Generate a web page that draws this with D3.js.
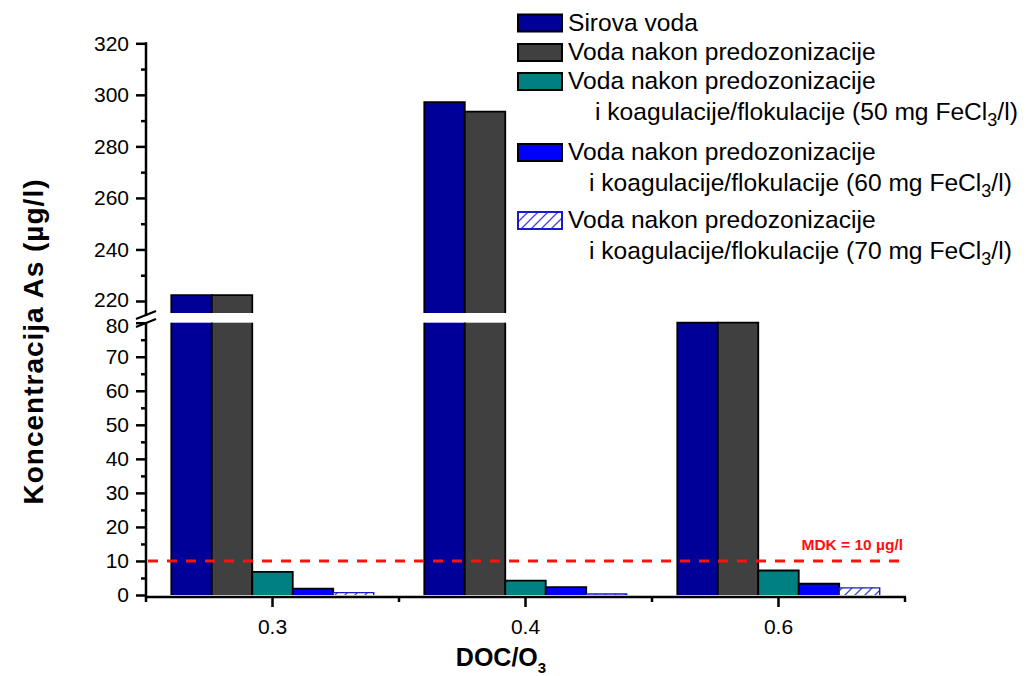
<!DOCTYPE html>
<html>
<head>
<meta charset="utf-8">
<script src="https://cdn.jsdelivr.net/npm/d3@7"></script>
<style>
  html, body { margin: 0; padding: 0; background: #fff; }
  svg { display: block; font-family: "Liberation Sans", Arial, sans-serif; }
</style>
</head>
<body>
<svg id="chart" width="1026" height="676"></svg>
<script>
// ---------------- data ----------------
const categories = ["0.3", "0.4", "0.6"];
const seriesKeys = ["sirova", "predoz", "fe50", "fe60", "fe70"];
const sirova = [222.3, 297.2, 80];
const predoz = [222.3, 293.5, 80];
const fe50 = [6.8, 4.25, 7.2];
const fe60 = [1.9, 2.3, 3.3];
const fe70 = [0.7, 0.3, 2.1];
const lowerTicks = [0, 10, 20, 30, 40, 50, 60, 70, 80];
const lowerMinorTicks = [5, 15, 25, 35, 45, 55, 65, 75];
const upperTicks = [220, 240, 260, 280, 300, 320];
const upperMinorTicks = [230, 250, 270, 290, 310];
const mdkValue = 10;
const legendLines = [
  ["Sirova voda"],
  ["Voda nakon predozonizacije"],
  ["Voda nakon predozonizacije", "i koagulacije/flokulacije (50 mg FeCl", "3", "/l)"],
  ["Voda nakon predozonizacije", "i koagulacije/flokulacije (60 mg FeCl", "3", "/l)"],
  ["Voda nakon predozonizacije", "i koagulacije/flokulacije (70 mg FeCl", "3", "/l)"]
];
const values = { sirova, predoz, fe50, fe60, fe70 };

// ---------------- layout ----------------
const svg = d3.select("#chart");
const axisX = 146;
const xLeft = 146, xRight = 905;
const zeroY = 595, lowerTopY = 322.7;
const upperBottomY = 313, upperLow = 220, upperHigh = 320;
const colors = {
  sirova: "#000099", predoz: "#404040", fe50: "#008080", fe60: "#0000ff", fe70: "url(#hatch)"
};
const strokes = { sirova: "#000", predoz: "#000", fe50: "#000", fe60: "#000", fe70: "#1a1acc" };

const defs = svg.append("defs");
const pat = defs.append("pattern").attr("id", "hatch").attr("patternUnits", "userSpaceOnUse")
  .attr("width", 10).attr("height", 10);
pat.append("rect").attr("width", 10).attr("height", 10).attr("fill", "#fff");
pat.append("path").attr("d", "M-2,2 L2,-2 M0,10 L10,0 M8,12 L12,8")
  .attr("stroke", "#4444d4").attr("stroke-width", 1.3);

const x0 = d3.scaleBand().domain(categories).range([xLeft, xRight]).padding(0);
const x1 = d3.scaleBand().domain(seriesKeys)
  .range([x0.bandwidth() * 0.1, x0.bandwidth() * 0.9]).padding(0);
const yL = d3.scaleLinear().domain([0, 80]).range([zeroY, lowerTopY]);
const yU = d3.scaleLinear().domain([upperLow, upperHigh]).range([301, 43.3]);

// ---------------- bars ----------------
const gBars = svg.append("g");
categories.forEach((c, ci) => {
  seriesKeys.forEach(k => {
    const v = values[k][ci];
    const bx = x0(c) + x1(k);
    const w = x1.bandwidth();
    const sw = k === "fe70" ? 1.4 : 1.8;
    if (v <= 80) {
      const top = yL(v);
      gBars.append("rect").attr("x", bx).attr("y", top).attr("width", w)
        .attr("height", zeroY - top).attr("fill", colors[k]);
      gBars.append("path").attr("d", `M${bx},${zeroY}V${top}H${bx + w}V${zeroY}`)
        .attr("fill", "none").attr("stroke", strokes[k]).attr("stroke-width", sw);
    } else {
      gBars.append("rect").attr("x", bx).attr("y", lowerTopY).attr("width", w)
        .attr("height", zeroY - lowerTopY).attr("fill", colors[k]);
      gBars.append("path").attr("d", `M${bx},${zeroY}V${lowerTopY}M${bx + w},${lowerTopY}V${zeroY}`)
        .attr("fill", "none").attr("stroke", strokes[k]).attr("stroke-width", sw);
      const top = yU(v);
      gBars.append("rect").attr("x", bx).attr("y", top).attr("width", w)
        .attr("height", upperBottomY - top).attr("fill", colors[k]);
      gBars.append("path").attr("d", `M${bx},${upperBottomY}V${top}H${bx + w}V${upperBottomY}`)
        .attr("fill", "none").attr("stroke", strokes[k]).attr("stroke-width", sw);
    }
  });
});

// ---------------- axes ----------------
const tickFont = 21;
function styleAxis(g) {
  g.select(".domain").remove();
  g.selectAll(".tick line").attr("stroke", "#000").attr("stroke-width", 2.5);
  g.selectAll(".tick text").attr("font-size", tickFont).attr("fill", "#000")
    .attr("font-family", "Liberation Sans, Arial, sans-serif");
}
const gyl = svg.append("g").attr("transform", `translate(${axisX},0)`)
  .call(d3.axisLeft(yL).tickValues(lowerTicks).tickSize(10).tickPadding(7).tickSizeOuter(0));
styleAxis(gyl);
// nudge the top label of the lower segment slightly below the break
gyl.selectAll(".tick text").filter(d => d === 80).attr("dy", "0.48em");
const gylm = svg.append("g").attr("transform", `translate(${axisX},0)`)
  .call(d3.axisLeft(yL).tickValues(lowerMinorTicks).tickSize(5).tickFormat(""));
styleAxis(gylm);
const gyu = svg.append("g").attr("transform", `translate(${axisX},0)`)
  .call(d3.axisLeft(yU).tickValues(upperTicks).tickSize(10).tickPadding(7).tickSizeOuter(0));
styleAxis(gyu);
gyu.selectAll(".tick text").filter(d => d === 220).attr("dy", "0.26em");
const gyum = svg.append("g").attr("transform", `translate(${axisX},0)`)
  .call(d3.axisLeft(yU).tickValues(upperMinorTicks).tickSize(5).tickFormat(""));
styleAxis(gyum);

svg.append("line").attr("x1", axisX).attr("x2", axisX).attr("y1", yU(upperHigh) - 1).attr("y2", 316)
  .attr("stroke", "#000").attr("stroke-width", 2.5);
svg.append("line").attr("x1", axisX).attr("x2", axisX).attr("y1", 322).attr("y2", zeroY + 2.5)
  .attr("stroke", "#000").attr("stroke-width", 2.5);
[315, 323].forEach(yy => {
  svg.append("line").attr("x1", axisX - 10).attr("x2", axisX + 10)
    .attr("y1", yy + 4).attr("y2", yy - 4).attr("stroke", "#000").attr("stroke-width", 2);
});

// x axis
const xAxisY = 597;
svg.append("line").attr("x1", xLeft - 1).attr("x2", xRight + 1).attr("y1", xAxisY).attr("y2", xAxisY)
  .attr("stroke", "#000").attr("stroke-width", 2.5);
const gx = svg.append("g").attr("transform", `translate(0,${xAxisY})`)
  .call(d3.axisBottom(x0).tickSize(10).tickPadding(12).tickSizeOuter(0));
styleAxis(gx);
const boundaries = categories.map(c => x0(c)).concat([x0.range()[1]]);
svg.append("g").selectAll("line").data(boundaries).join("line")
  .attr("x1", d => d).attr("x2", d => d).attr("y1", xAxisY).attr("y2", xAxisY + 5)
  .attr("stroke", "#000").attr("stroke-width", 2.5);

// MDK line
svg.append("line").attr("x1", xLeft + 2).attr("x2", xRight + 3)
  .attr("y1", yL(mdkValue)).attr("y2", yL(mdkValue))
  .attr("stroke", "#ff1010").attr("stroke-width", 3).attr("stroke-dasharray", "10,9");
svg.append("text").attr("x", 903).attr("y", 550).attr("text-anchor", "end")
  .attr("font-size", 15.5).attr("font-weight", "bold").attr("fill", "#ff1010")
  .text("MDK = 10 µg/l");

// axis titles
svg.append("text").attr("transform", "translate(43,342) rotate(-90)")
  .attr("text-anchor", "middle").attr("font-size", 28).attr("font-weight", "bold")
  .attr("textLength", 325).attr("lengthAdjust", "spacing")
  .text("Koncentracija As (µg/l)");
const xt = svg.append("text").attr("x", 501).attr("y", 666).attr("text-anchor", "middle")
  .attr("font-size", 25).attr("font-weight", "bold");
xt.append("tspan").text("DOC/O");
xt.append("tspan").attr("font-size", 15).attr("dy", 7).text("3");

// ---------------- legend ----------------
const legBoxY = [14.5, 44, 73, 144, 212];
const legend = svg.append("g");
seriesKeys.forEach((k, i) => {
  const by = legBoxY[i];
  legend.append("rect").attr("x", 518).attr("y", by).attr("width", 44).attr("height", 17)
    .attr("fill", colors[k]).attr("stroke", strokes[k]).attr("stroke-width", 2);
  const lines = legendLines[i];
  legend.append("text").attr("x", 568).attr("y", by + 16).attr("font-size", 24.6).attr("fill", "#000")
    .text(lines[0]);
  if (lines.length > 1) {
    const t = legend.append("text").attr("x", i === 2 ? 595 : 589).attr("y", by + 16 + 30.5)
      .attr("font-size", 24.6).attr("fill", "#000");
    t.append("tspan").text(lines[1]);
    t.append("tspan").attr("font-size", 18).attr("dy", 6).text(lines[2]);
    t.append("tspan").attr("dy", -6).text(lines[3]);
  }
});
</script>
</body>
</html>
